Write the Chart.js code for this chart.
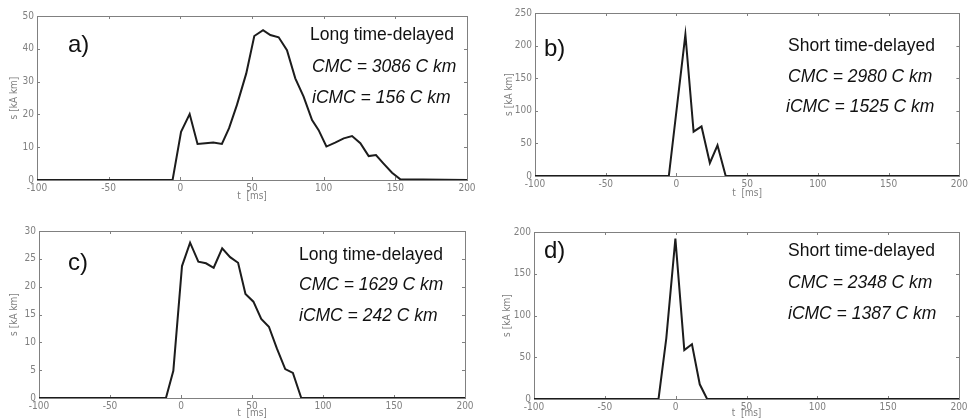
<!DOCTYPE html>
<html><head><meta charset="utf-8">
<script src="https://cdn.jsdelivr.net/npm/chart.js@4"></script>
<style>
html,body{margin:0;padding:0;background:#fff;}
#root{position:relative;width:970px;height:420px;overflow:hidden;background:#fff;}
.p{position:absolute;}
.p canvas{display:block;}
.t{position:absolute;font-family:'Liberation Sans',Arial,sans-serif;color:#111;white-space:nowrap;line-height:1;font-size:17.5px;}
.i{font-style:italic;}
.lab{font-size:24px;}
</style></head><body><div id="root">
<div class="p" style="left:0;top:0;"><canvas id="ca" width="485" height="205"></canvas></div>
<div class="p" style="left:485px;top:0;"><canvas id="cb" width="485" height="205"></canvas></div>
<div class="p" style="left:0;top:205px;"><canvas id="cc" width="485" height="215"></canvas></div>
<div class="p" style="left:485px;top:205px;"><canvas id="cd" width="485" height="215"></canvas></div>

<div class="t lab" style="left:68px;top:32px;">a)</div>
<div class="t" style="left:310px;top:26px;">Long time-delayed</div>
<div class="t i" style="left:312px;top:58px;">CMC = 3086 C km</div>
<div class="t i" style="left:312px;top:89px;">iCMC = 156 C km</div>

<div class="t lab" style="left:544px;top:36px;">b)</div>
<div class="t" style="left:788px;top:37px;">Short time-delayed</div>
<div class="t i" style="left:788px;top:68px;">CMC = 2980 C km</div>
<div class="t i" style="left:786px;top:98px;">iCMC = 1525 C km</div>

<div class="t lab" style="left:68px;top:250px;">c)</div>
<div class="t" style="left:299px;top:246px;">Long time-delayed</div>
<div class="t i" style="left:299px;top:276px;">CMC = 1629 C km</div>
<div class="t i" style="left:299px;top:307px;">iCMC = 242 C km</div>

<div class="t lab" style="left:544px;top:238px;">d)</div>
<div class="t" style="left:788px;top:242px;">Short time-delayed</div>
<div class="t i" style="left:788px;top:274px;">CMC = 2348 C km</div>
<div class="t i" style="left:788px;top:305px;">iCMC = 1387 C km</div>
</div>
<script>
// ---- data (t in ms, s in kA km) ----
const xTicks = [-100, -50, 0, 50, 100, 150, 200];

const tA = [-100, -5.4, 0.5, 6.5, 12, 17.5, 23, 29, 34, 39.5, 46, 51.6, 57.7, 62.8, 68.6, 74.4, 80.2, 86, 91.9, 96.5, 101.9, 108, 114, 119.8, 125.6, 131.4, 136.5, 141.8, 147.7, 153.5, 200];
const sA = [0, 0, 14.7, 20.1, 11, 11.2, 11.4, 11, 15.8, 22.9, 32.5, 43.9, 45.7, 44.2, 43.5, 39.6, 31, 25.4, 18.3, 15.2, 10.2, 11.4, 12.7, 13.4, 11.2, 7.3, 7.6, 5, 2.2, 0.2, 0];

const tB = [-100, -5.4, 6.3, 12.1, 17.7, 23.6, 29, 34.8, 200];
const sB = [0, 0, 217, 68, 76, 20, 47, 0, 0];

const tC = [-100, -10.6, -5.4, 0.7, 6.4, 12.2, 17.6, 23, 29, 34.6, 40.2, 45.4, 51, 56.5, 61.9, 67.5, 73.4, 78.8, 84.7, 200];
const sC = [0, 0, 4.9, 23.7, 27.9, 24.5, 24.2, 23.4, 26.9, 25.3, 24.3, 18.7, 17.3, 14.2, 12.8, 8.9, 5.2, 4.5, 0, 0];

const tD = [-100, -12.1, -6.6, -0.2, 6.1, 11.5, 17, 22.2, 200];
const sD = [0, 0, 73, 192, 58.6, 65.6, 17.6, 0, 0];

const yMaxes = [50, 250, 30, 200];
const ySteps = [10, 50, 5, 50];

// ---- styling helpers ----
const tickFont = {family: "'Liberation Sans Narrow','DejaVu Sans Condensed','Liberation Sans',Arial,sans-serif", size: 10};
const grey = '#808080';

const boxPlugin = {
  id: 'matlabBox',
  beforeDatasetsDraw(chart) {
    const {ctx, chartArea: a, scales: {x, y}} = chart;
    ctx.save();
    ctx.strokeStyle = grey;
    ctx.lineWidth = 1;
    ctx.strokeRect(Math.round(a.left) + 0.5, Math.round(a.top) + 0.5, Math.round(a.right - a.left), Math.round(a.bottom - a.top));
    ctx.beginPath();
    x.ticks.forEach(t => {
      const px = Math.round(x.getPixelForValue(t.value)) + 0.5;
      ctx.moveTo(px, a.bottom); ctx.lineTo(px, a.bottom - 3);
      ctx.moveTo(px, a.top); ctx.lineTo(px, a.top + 3);
    });
    y.ticks.forEach(t => {
      const py = Math.round(y.getPixelForValue(t.value)) + 0.5;
      ctx.moveTo(a.left, py); ctx.lineTo(a.left + 3, py);
      ctx.moveTo(a.right, py); ctx.lineTo(a.right - 3, py);
    });
    ctx.stroke();
    ctx.restore();
  }
};

function makePanel(id, ts, ss, yMax, yStep, geom) {
  const pts = ts.map((t, i) => ({x: t, y: ss[i]}));
  new Chart(document.getElementById(id), {
    type: 'line',
    data: {datasets: [{data: pts, borderColor: '#1c1c1c', borderWidth: 2, pointRadius: 0, tension: 0, fill: false}]},
    options: {
      responsive: false, animation: false,
      layout: {padding: {top: geom.pt, right: geom.pr, left: 0, bottom: 0}},
      plugins: {legend: {display: false}, tooltip: {enabled: false}},
      scales: {
        x: {
          type: 'linear', min: -100, max: 200,
          afterBuildTicks: s => { s.ticks = xTicks.map(v => ({value: v})); },
          grid: {display: false, drawTicks: false}, border: {display: false},
          ticks: {color: grey, font: tickFont, padding: 2, maxRotation: 0, autoSkip: false},
          title: {display: true, text: 't  [ms]', color: grey, font: tickFont, padding: {top: 0, bottom: geom.tb}},
          afterFit: s => { s.height = geom.hx; }
        },
        y: {
          type: 'linear', min: 0, max: yMax,
          ticks: {stepSize: yStep, color: grey, font: tickFont, padding: 3},
          grid: {display: false, drawTicks: false}, border: {display: false},
          title: {display: true, text: 's [kA km]', color: grey, font: tickFont, padding: {top: geom.tp, bottom: 0}},
          afterFit: s => { s.width = geom.wy; }
        }
      }
    },
    plugins: [boxPlugin]
  });
}

makePanel('ca', tA, sA, yMaxes[0], ySteps[0], {pt: 16, pr: 18, hx: 25, wy: 37, tb: 3, tp: 8});
makePanel('cb', tB, sB, yMaxes[1], ySteps[1], {pt: 13, pr: 8, hx: 29, wy: 50, tb: 6, tp: 18});
makePanel('cc', tC, sC, yMaxes[2], ySteps[2], {pt: 26, pr: 20, hx: 22, wy: 39, tb: 1, tp: 8});
makePanel('cd', tD, sD, yMaxes[3], ySteps[3], {pt: 27, pr: 11, hx: 21, wy: 49, tb: 1, tp: 16});
</script>
</body></html>
